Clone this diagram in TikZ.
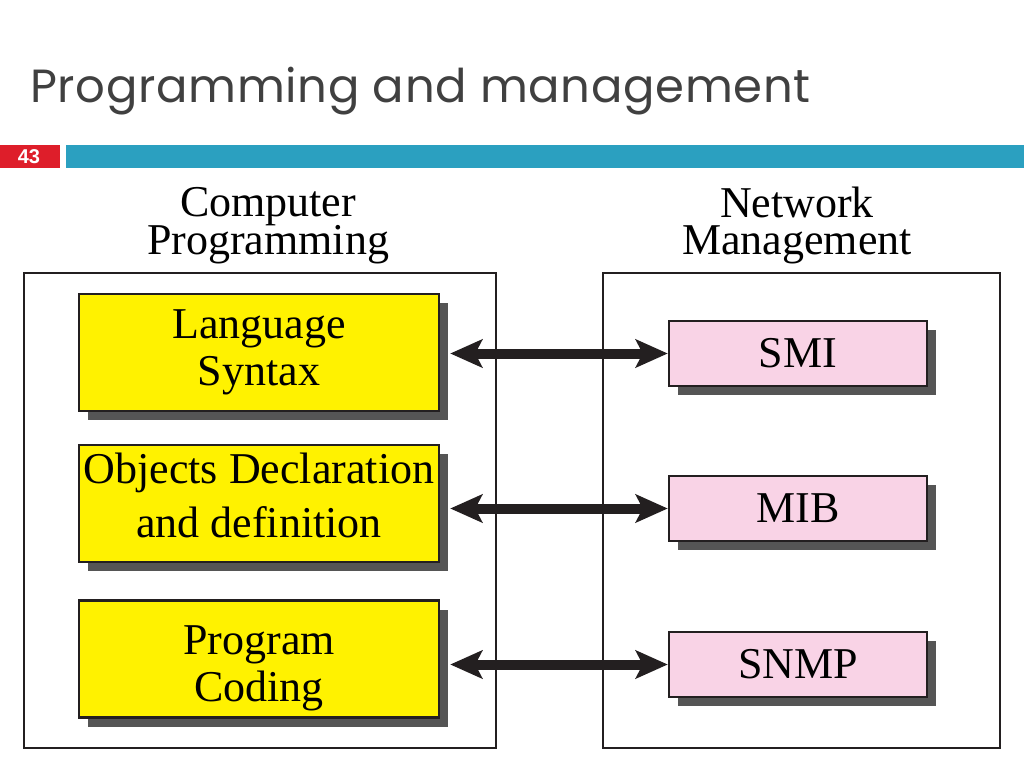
\documentclass[tikz,border=0pt]{standalone}
\usepackage{fontspec}
\setmainfont{Liberation Serif}
\newfontfamily\titlefont[LetterSpace=1.5]{Poppins}
\newfontfamily\numfont{Liberation Sans}
\usetikzlibrary{arrows.meta,shadows}

\definecolor{slideblue}{RGB}{43,160,192}
\definecolor{slidered}{RGB}{222,30,42}
\definecolor{titlegray}{RGB}{64,64,64}
\definecolor{boxyellow}{RGB}{255,242,0}
\definecolor{boxpink}{RGB}{249,211,230}
\definecolor{shadowgray}{RGB}{85,85,85}
\definecolor{inkblack}{RGB}{35,31,32}
\lineskiplimit=-50pt

\begin{document}
\begin{tikzpicture}[x=1pt,y=-1pt,
    frame/.style={draw=inkblack,line width=1.6pt},
    shade box/.style={draw=inkblack,line width=2.5pt,inner sep=0pt,align=center,
        drop shadow={shadow xshift=9pt,shadow yshift=-9pt,fill=shadowgray,opacity=1}},
    ybox/.style={shade box,fill=boxyellow,minimum width=360pt,minimum height=117pt,
        font=\fontsize{44}{47}\selectfont},
    pbox/.style={shade box,fill=boxpink,minimum width=258pt,minimum height=65pt,
        font=\fontsize{44}{47}\selectfont},
    head/.style={align=center,font=\fontsize{44}{37.5}\selectfont},
    tip/.tip={Stealth[length=32pt,width=28pt,inset=7pt]},
    biarrow/.style={line width=10pt,draw=inkblack,tip-tip,shorten <=10pt}]
    \useasboundingbox (0,0) rectangle (1024,768);

    % slide header
    \node[anchor=base west,text=titlegray,inner sep=0pt,
        font=\titlefont\fontsize{46.5}{50}\selectfont] (title) at (30,102) {Programming and management};
    \fill[slidered] (0,145) rectangle (60,168);
    \fill[slideblue] (66,145) rectangle (1024,168);
    \node[text=white,font=\numfont\bfseries\fontsize{20}{22}\selectfont] (num) at (29,157) {43};

    % the two sides
    \draw[frame] (24,273) rectangle (496,748);
    \draw[frame] (603,273) rectangle (1000,748);
    \node[head] (prog) at (268,225.5) {Computer\\Programming};
    \node[head] (net) at (797,225.5) {Network\\Management};

    \node[ybox] (lang) at (259,352.5) {Language\\Syntax};
    \node[ybox] (objs) at (259,503.5) {Objects Declaration\\[7pt]and definition\rule[-17pt]{0pt}{17pt}};
    \node[ybox] (code) at (259,659) {\rule{0pt}{48pt}Program\\Coding};

    \node[pbox] (smi) at (798,353.5) {SMI};
    \node[pbox] (mib) at (798,508.5) {MIB};
    \node[pbox] (snmp) at (798,664.5) {SNMP};

    \draw[biarrow] (lang.east |- smi.west) -- (smi.west);
    \draw[biarrow] (objs.east |- mib.west) -- (mib.west);
    \draw[biarrow] (code.east |- snmp.west) -- (snmp.west);
\end{tikzpicture}
\end{document}
